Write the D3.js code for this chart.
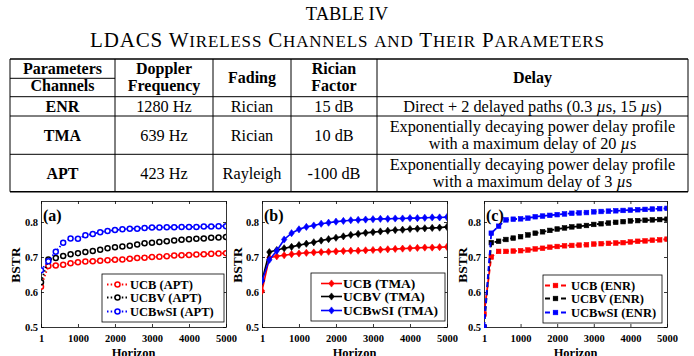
<!DOCTYPE html>
<html>
<head>
<meta charset="utf-8">
<script src="https://cdn.jsdelivr.net/npm/d3@7"></script>
<style>
  body { margin: 0; background: #fff; }
</style>
</head>
<body>
<div id="chart"></div>
<script>
// ---- table data ----
const tableTitle = "TABLE IV";
const tableCaption = "LDACS Wireless Channels and Their Parameters";
const headerTop = ["Parameters", "Doppler", "", "Rician", ""];
const headerBottom = ["Channels", "Frequency", "", "Factor", ""];
const headerMid = ["", "", "Fading", "", "Delay"];
const channels = ["ENR", "TMA", "APT"];
const doppler = ["1280 Hz", "639 Hz", "423 Hz"];
const fading = ["Rician", "Rician", "Rayleigh"];
const ricianFactor = ["15 dB", "10 dB", "-100 dB"];
const delayText = [
  ["Direct + 2 delayed paths (0.3 |µ|s, 15 |µ|s)"],
  ["Exponentially decaying power delay profile", "with a maximum delay of 20 |µ|s"],
  ["Exponentially decaying power delay profile", "with a maximum delay of 3 |µ|s"]
];

// ---- chart data ----
const horizon = [1, 200, 400, 600, 800, 1000, 1200, 1400, 1600, 1800, 2000, 2200, 2400,
  2600, 2800, 3000, 3200, 3400, 3600, 3800, 4000, 4200, 4400, 4600, 4800, 5000];
const xTicks = [1, 1000, 2000, 3000, 4000, 5000];
const yTicks = [0.5, 0.6, 0.7, 0.8];

const ucbAPT = [0.615, 0.674, 0.676, 0.678, 0.682, 0.685, 0.687, 0.688, 0.689, 0.691, 0.692, 0.693, 0.695,
  0.697, 0.698, 0.700, 0.701, 0.702, 0.704, 0.705, 0.706, 0.707, 0.708, 0.709, 0.710, 0.711];
const ucbvAPT = [0.628, 0.693, 0.697, 0.703, 0.708, 0.711, 0.714, 0.717, 0.721, 0.725, 0.728, 0.730, 0.732,
  0.736, 0.739, 0.741, 0.743, 0.745, 0.747, 0.749, 0.751, 0.752, 0.753, 0.755, 0.756, 0.757];
const ucbwsiAPT = [0.662, 0.688, 0.715, 0.741, 0.753, 0.752, 0.762, 0.766, 0.771, 0.774, 0.777, 0.779, 0.781,
  0.781, 0.783, 0.784, 0.784, 0.785, 0.785, 0.786, 0.786, 0.786, 0.787, 0.787, 0.788, 0.788];

const ucbTMA = [0.603, 0.698, 0.702, 0.705, 0.708, 0.710, 0.712, 0.713, 0.714, 0.715, 0.716, 0.717, 0.718,
  0.718, 0.719, 0.720, 0.721, 0.722, 0.723, 0.724, 0.725, 0.726, 0.727, 0.727, 0.728, 0.729];
const ucbvTMA = [0.632, 0.714, 0.720, 0.725, 0.729, 0.734, 0.738, 0.742, 0.747, 0.751, 0.755, 0.759, 0.763,
  0.766, 0.769, 0.771, 0.773, 0.775, 0.777, 0.778, 0.780, 0.781, 0.782, 0.783, 0.784, 0.786];
const ucbwsiTMA = [0.632, 0.692, 0.718, 0.750, 0.768, 0.779, 0.786, 0.790, 0.795, 0.798, 0.801, 0.803, 0.805,
  0.806, 0.807, 0.808, 0.809, 0.809, 0.810, 0.810, 0.811, 0.811, 0.812, 0.813, 0.813, 0.814];

const ucbENR = [0.537, 0.700, 0.716, 0.716, 0.717, 0.718, 0.720, 0.723, 0.725, 0.728, 0.730, 0.732, 0.733,
  0.734, 0.735, 0.737, 0.738, 0.739, 0.740, 0.741, 0.743, 0.745, 0.746, 0.748, 0.749, 0.751];
const ucbvENR = [0.500, 0.741, 0.745, 0.750, 0.754, 0.758, 0.763, 0.768, 0.772, 0.776, 0.780, 0.783, 0.786,
  0.788, 0.790, 0.793, 0.795, 0.797, 0.799, 0.801, 0.803, 0.804, 0.805, 0.806, 0.807, 0.808];
const ucbwsiENR = [0.500, 0.768, 0.788, 0.806, 0.808, 0.809, 0.811, 0.815, 0.817, 0.819, 0.821, 0.823, 0.825,
  0.826, 0.827, 0.829, 0.830, 0.831, 0.832, 0.833, 0.834, 0.835, 0.836, 0.837, 0.838, 0.839];

const seriesColors = ["#ff0000", "#000000", "#0000ff"];
const FONT = "'Liberation Serif', 'Times New Roman', Times, serif";

const W = 694, H = 356;
const svg = d3.select("#chart").append("svg").attr("width", W).attr("height", H)
  .attr("font-family", FONT).style("display", "block");
svg.append("rect").attr("width", W).attr("height", H).attr("fill", "#fff");

// ---- title ----
svg.append("text").attr("x", 347).attr("y", 20).attr("text-anchor", "middle")
  .attr("font-size", 18.5).text(tableTitle);

// caption in small caps: capitals big, lower-case letters as smaller capitals
const cap = svg.append("text").attr("x", 347).attr("y", 46.5).attr("text-anchor", "middle")
  .attr("textLength", 514).attr("lengthAdjust", "spacing");
tableCaption.split("").forEach(ch => {
  const lower = ch !== ch.toUpperCase();
  cap.append("tspan").attr("font-size", lower ? 17 : 21).text(ch.toUpperCase());
});

// ---- table ----
const colX = [10, 115, 213, 291, 377, 688];
const rowY = [59, 96.7, 116, 154.3, 191.7];
const tbl = svg.append("g");
const lineStyle = sel => sel.attr("stroke", "#000").attr("stroke-width", 1);

rowY.forEach((y, i) => {
  tbl.append("line").attr("x1", colX[0]).attr("x2", colX[5]).attr("y1", y).attr("y2", y)
    .call(lineStyle).attr("stroke-width", i === 0 || i === rowY.length - 1 ? 1.4 : 1);
});
tbl.append("line").attr("x1", colX[0]).attr("x2", colX[1]).attr("y1", 78.3).attr("y2", 78.3).call(lineStyle);
colX.forEach(x => {
  tbl.append("line").attr("x1", x).attr("x2", x).attr("y1", rowY[0]).attr("y2", rowY[4]).call(lineStyle);
});

const colCenter = d3.range(5).map(i => (colX[i] + colX[i + 1]) / 2);

function addText(g, x, y, str, bold) {
  const t = g.append("text").attr("x", x).attr("y", y).attr("text-anchor", "middle")
    .attr("font-weight", bold ? "bold" : "normal").attr("font-size", bold ? 16 : 16.3);
  str.split("|").forEach((part, k) => {
    const ts = t.append("tspan").text(part);
    if (k % 2 === 1) ts.attr("font-style", "italic");
  });
  return t;
}

headerTop.forEach((s, i) => { if (s) addText(tbl, colCenter[i], 73.5, s, true); });
headerBottom.forEach((s, i) => { if (s) addText(tbl, colCenter[i], 91, s, true); });
headerMid.forEach((s, i) => { if (s) addText(tbl, colCenter[i], 83, s, true); });

const rowMid = [rowY[1], rowY[2], rowY[3]].map((y, i) => (y + rowY[i + 2]) / 2);
channels.forEach((c, r) => {
  const base = rowMid[r] + 5.5;
  addText(tbl, colCenter[0], base, c, true);
  addText(tbl, colCenter[1], base, doppler[r], false);
  addText(tbl, colCenter[2], base, fading[r], false);
  addText(tbl, colCenter[3], base, ricianFactor[r], false);
  const lines = delayText[r];
  lines.forEach((l, k) => {
    const off = (k - (lines.length - 1) / 2) * 17;
    addText(tbl, colCenter[4], base + off, l, false);
  });
});

// ---- charts ----
const panels = [
  { left: 41, width: 185, label: "(a)", series: [ucbAPT, ucbvAPT, ucbwsiAPT],
    names: ["UCB (APT)", "UCBV (APT)", "UCBwSI (APT)"], style: "dotted", marker: "circle",
    legend: { x: 102, y: 274, w: 122, h: 48, lineX: 5, textX: 28, font: 12.5 }, ylabX: 15 },
  { left: 262, width: 185, label: "(b)", series: [ucbTMA, ucbvTMA, ucbwsiTMA],
    names: ["UCB (TMA)", "UCBV (TMA)", "UCBwSI (TMA)"], style: "solid", marker: "diamond",
    legend: { x: 311, y: 273, w: 134, h: 48, lineX: 10, textX: 32, font: 13.5 }, ylabX: 237 },
  { left: 484, width: 183, label: "(c)", series: [ucbENR, ucbvENR, ucbwsiENR],
    names: ["UCB (ENR)", "UCBV (ENR)", "UCBwSI (ENR)"], style: "dashed", marker: "square",
    legend: { x: 543, y: 275, w: 119, h: 48, lineX: 2, textX: 28, font: 12.5 }, ylabX: 462 }
];
const plotTop = 201, plotBottom = 327;

const dashFor = { dotted: "1.5,2.2", solid: null, dashed: "5,3" };

function drawMarker(g, type, x, y, color) {
  if (type === "circle") {
    g.append("circle").attr("cx", x).attr("cy", y).attr("r", 2.5)
      .attr("fill", "#fff").attr("stroke", color).attr("stroke-width", 1.5);
  } else if (type === "diamond") {
    g.append("path").attr("d", `M${x},${y - 3.6}L${x + 2.7},${y}L${x},${y + 3.6}L${x - 2.7},${y}Z`)
      .attr("fill", color).attr("stroke", color).attr("stroke-width", 0.6);
  } else {
    g.append("rect").attr("x", x - 2.3).attr("y", y - 2.3).attr("width", 4.6).attr("height", 4.6)
      .attr("fill", color).attr("stroke", color).attr("stroke-width", 0.6);
  }
}

panels.forEach((p, pi) => {
  const x = d3.scaleLinear().domain([1, 5000]).range([p.left, p.left + p.width]);
  const y = d3.scaleLinear().domain([0.5, 0.86]).range([plotBottom, plotTop]);
  const g = svg.append("g");

  const clipId = "clip" + pi;
  svg.append("clipPath").attr("id", clipId).append("rect")
    .attr("x", p.left).attr("y", plotTop - 1).attr("width", p.width).attr("height", plotBottom - plotTop + 2);

  const axisStyle = sel => {
    sel.attr("font-family", FONT);
    sel.selectAll("text").attr("font-weight", "bold").attr("font-size", 10.5).attr("fill", "#000");
    sel.selectAll("line").attr("stroke", "#000").attr("stroke-width", 0.8);
    sel.select(".domain").attr("stroke", "#000").attr("stroke-width", 0.8);
  };

  g.append("g").attr("transform", `translate(0,${plotBottom})`)
    .call(d3.axisBottom(x).tickValues(xTicks).tickFormat(d3.format("d")).tickSize(-3).tickSizeOuter(0).tickPadding(8))
    .call(axisStyle);
  g.append("g").attr("transform", `translate(0,${plotTop})`)
    .call(d3.axisTop(x).tickValues(xTicks).tickFormat("").tickSize(-3).tickSizeOuter(0))
    .call(axisStyle);
  g.append("g").attr("transform", `translate(${p.left},0)`)
    .call(d3.axisLeft(y).tickValues(yTicks).tickFormat(d3.format(".1f")).tickSize(-3).tickSizeOuter(0).tickPadding(3))
    .call(axisStyle);
  g.append("g").attr("transform", `translate(${p.left + p.width},0)`)
    .call(d3.axisRight(y).tickValues(yTicks).tickFormat("").tickSize(-3).tickSizeOuter(0))
    .call(axisStyle);

  // axis titles
  svg.append("text").attr("transform", `translate(${p.ylabX + 4.5},${265}) rotate(-90)`)
    .attr("text-anchor", "middle").attr("font-weight", "bold").attr("font-size", 13.5).text("BSTR");
  svg.append("text").attr("x", p.left + p.width / 2).attr("y", 357).attr("text-anchor", "middle")
    .attr("font-weight", "bold").attr("font-size", 12.5).text("Horizon");

  // series
  const plot = g.append("g").attr("clip-path", `url(#${clipId})`);
  const line = d3.line().x((d, i) => x(horizon[i])).y(d => y(d));
  p.series.forEach((vals, si) => {
    const color = seriesColors[si];
    plot.append("path").datum(vals).attr("d", line).attr("fill", "none")
      .attr("stroke", color).attr("stroke-width", p.style === "solid" ? 1.6 : 1.8)
      .attr("stroke-dasharray", dashFor[p.style]);
    vals.forEach((v, i) => drawMarker(plot, p.marker, x(horizon[i]), y(v), color));
  });

  // panel label
  svg.append("text").attr("x", p.left + 2).attr("y", 221).attr("font-weight", "bold")
    .attr("font-size", 16).text(p.label);

  // legend
  const L = p.legend;
  const lg = svg.append("g");
  lg.append("rect").attr("x", L.x).attr("y", L.y).attr("width", L.w).attr("height", L.h)
    .attr("fill", "#fff").attr("stroke", "#000").attr("stroke-width", 0.8);
  const rowsY = [L.y + 10.5, L.y + 23.5, L.y + 37.5];
  p.names.forEach((n, si) => {
    const color = seriesColors[si];
    const ly = rowsY[si];
    lg.append("line").attr("x1", L.x + L.lineX).attr("x2", L.x + L.lineX + 21)
      .attr("y1", ly).attr("y2", ly).attr("stroke", color)
      .attr("stroke-width", p.style === "solid" ? 1.6 : 1.8).attr("stroke-dasharray", dashFor[p.style]);
    drawMarker(lg, p.marker, L.x + L.lineX + 10.5, ly, color);
    lg.append("text").attr("x", L.x + L.textX).attr("y", ly + 4.3)
      .attr("font-weight", "bold").attr("font-size", L.font).text(n);
  });
});
</script>
</body>
</html>
